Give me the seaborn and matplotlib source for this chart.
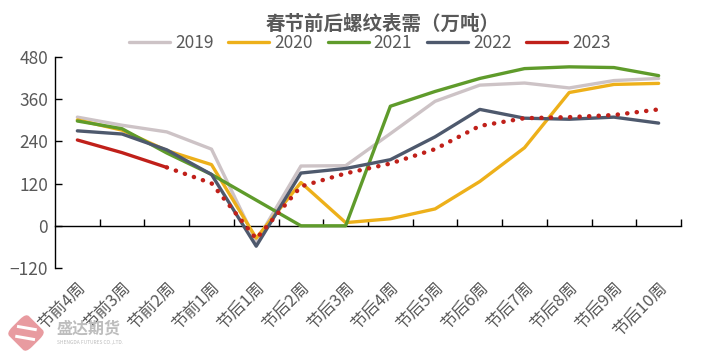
import numpy as np
import pandas as pd
import matplotlib
matplotlib.use("Agg")
import matplotlib.pyplot as plt
import matplotlib.patches as mpatches
import matplotlib.transforms as mtransforms
import seaborn as sns

# data
weeks = ["节前4周", "节前3周", "节前2周", "节前1周", "节后1周", "节后2周", "节后3周",
         "节后4周", "节后5周", "节后6周", "节后7周", "节后8周", "节后9周", "节后10周"]
y2019 = [309, 286, 267, 218, -45, 170, 171, 262, 354, 400, 406, 392, 413, 419]
y2020 = [301, 272, 214, 174, -35, 123, 9, 20, 48, 126, 222, 379, 402, 405]
y2021 = [298, 276, 207, 146, 73, 0, 0, 340, 382, 419, 447, 452, 450, 427]
y2022 = [270, 261, 216, 146, -58, 150, 163, 188, 253, 331, 306, 303, 309, 292]
y2023 = [244, 208, 166]
# dotted continuation of 2023 (starts at 节前2周)
y2023_est = [166, 121, -37, 112, 149, 177, 218, 284, 306, 309, 315, 331]

years = ["2019", "2020", "2021", "2022", "2023"]
colors = {"2019": "#CDC3C6", "2020": "#EDB01A", "2021": "#5F9B2B",
          "2022": "#4E596D", "2023": "#C0201A"}

rows = []
for yr, vals in zip(years, [y2019, y2020, y2021, y2022, y2023]):
    for i, v in enumerate(vals):
        rows.append({"pos": i, "val": v, "year": yr})
df = pd.DataFrame(rows)
est = pd.DataFrame({"pos": np.arange(2, 2 + len(y2023_est)), "val": y2023_est})

sns.set_style("white")
plt.rcParams["font.family"] = ["Noto Sans CJK SC", "DejaVu Sans"]
grey = "#595959"

fig = plt.figure(figsize=(7.09, 3.54), dpi=100)
ax = fig.add_axes([55 / 709, 1 - 268 / 354, (681 - 55) / 709, (268 - 57) / 354])

sns.lineplot(data=df, x="pos", y="val", hue="year", hue_order=years, palette=colors,
             linewidth=2.4, ax=ax, legend=True)
sns.lineplot(data=est, x="pos", y="val", color=colors["2023"], linewidth=3.2,
             linestyle=(0, (0.05, 2.1)), dash_capstyle="round", ax=ax, legend=False)

ax.set_xlim(-0.5, len(weeks) - 0.5)
ax.set_ylim(-120, 480)
ax.set_yticks([-120, 0, 120, 240, 360, 480])
ax.set_xticks(range(len(weeks)))
ax.set_xticklabels(weeks, rotation=45, ha="right", rotation_mode="anchor")
ax.tick_params(axis="x", length=0, pad=8, labelsize=12, labelcolor=grey)
ax.tick_params(axis="y", direction="in", length=5, width=1, color="black",
               labelsize=12.5, labelcolor=grey, left=True, pad=5)
ax.set_xlabel("")
ax.set_ylabel("")
for s in ["top", "right", "bottom"]:
    ax.spines[s].set_visible(False)
ax.spines["left"].set_color("black")
ax.spines["left"].set_linewidth(1)

# zero line with category boundary ticks
zero = ax.secondary_xaxis(120 / 600)
zero.set_xticks(np.arange(0.5, len(weeks) - 0.5 + 0.01, 1))
zero.set_xticklabels([])
zero.tick_params(direction="in", length=5, width=1, color="black")
zero.spines["bottom"].set_color("black")
zero.spines["bottom"].set_linewidth(1)

handles, labels = ax.get_legend_handles_labels()
ax.get_legend().remove()
fig.legend(handles, labels, loc="center", bbox_to_anchor=(370 / 709, 1 - 43 / 354),
           ncol=5, frameon=False, fontsize=12.5, handlelength=2.35, handletextpad=0.3,
           columnspacing=0.85, labelcolor=grey)

fig.text(383 / 709, 1 - 24 / 354, "春节前后螺纹表需（万吨）", ha="center", va="center",
         fontsize=14, fontweight="bold", color=grey)

# watermark: logo + company name
cx, cy = 26, 354 - 333  # logo centre in pixels
logo = mpatches.FancyBboxPatch((12 / 709, 1 - 347 / 354), 28 / 709, 28 / 354,
                               boxstyle="round,pad=0,rounding_size=0.012",
                               facecolor="#E58A90", edgecolor="none", alpha=0.85)
logo.set_transform(fig.transFigure + mtransforms.Affine2D().rotate_deg_around(cx, cy, 45))
fig.patches.append(logo)
for dy in (-5, 5):
    bar = mpatches.Rectangle((16 / 709, (cy + dy - 1.5) / 354), 20 / 709, 3 / 354,
                             facecolor="white", edgecolor="none")
    bar.set_transform(fig.transFigure + mtransforms.Affine2D().rotate_deg_around(cx, cy, -10))
    fig.patches.append(bar)
fig.text(57 / 709, 1 - 329 / 354, "盛达期货", ha="left", va="center", fontsize=11.5,
         fontweight="bold", color="#BDBDBD")
fig.text(57 / 709, 1 - 342 / 354, "SHENGDA FUTURES CO.,LTD.", ha="left", va="center",
         fontsize=3.5, color="#BDBDBD")

fig.savefig("out.png", dpi=100)
